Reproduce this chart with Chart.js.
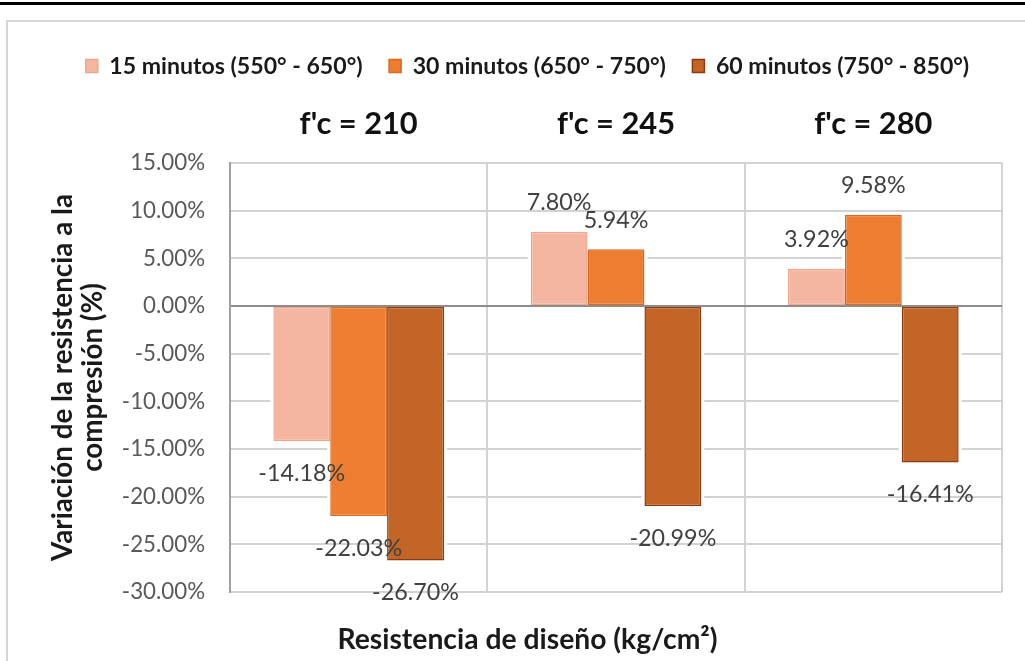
<!DOCTYPE html>
<html>
<head>
<meta charset="utf-8">
<script src="https://cdn.jsdelivr.net/npm/chart.js@4.4.1/dist/chart.umd.min.js"></script>
<style>
  html, body { margin: 0; padding: 0; background: #fff; width: 1025px; height: 661px; overflow: hidden; }
  #topRule { position: absolute; left: 0; top: 2px; width: 1025px; height: 3px; background: #000; }
  #frame { position: absolute; left: 6px; top: 20px; width: 1100px; height: 700px; border: 2px solid #D6D6D6; box-sizing: border-box; }
  #c { position: absolute; left: 0; top: 0; }
</style>
</head>
<body>
<div id="topRule"></div>
<div id="frame"></div>
<canvas id="c" width="1025" height="661"></canvas>
<script>
// ---- data ----
const categories = ["f'c = 210", "f'c = 245", "f'c = 280"];
const seriesNames = ["15 minutos (550° - 650°)", "30 minutos (650° - 750°)", "60 minutos (750° - 850°)"];
const min15 = [-14.18, 7.80, 3.92];
const min30 = [-22.03, 5.94, 9.58];
const min60 = [-26.70, -20.99, -16.41];
const yMin = -30, yMax = 15, yStep = 5;
const yTitle = ["Variación de la resistencia a la", "compresión (%)"];
const xTitle = "Resistencia de diseño (kg/cm²)";

// ---- style ----
const FAMILY = 'Lato';
function fitSize(text, weight, target) {
  const c = document.createElement('canvas').getContext('2d');
  c.font = weight + ' 100px ' + FAMILY;
  return Math.round(1000 * target / c.measureText(text).width) / 10;
}
const legendSize = fitSize(seriesNames[0], 'bold', 253);
const catSize = fitSize(categories[0], 'bold', 118);
const tickSize = fitSize('-30.00%', 'normal', 83);
const labelSize = fitSize('-14.18%', 'normal', 87);
const yTitleSize = fitSize(yTitle[0], 'bold', 367);
const xTitleSize = fitSize(xTitle, 'bold', 380);

const PAD_LEFT = 30, PAD_TOP = 28;
const AREA_LEFT = 230, AREA_RIGHT = 1002, AREA_TOP = 163, AREA_BOTTOM = 592;
const LEG_PAD = 26.5, BOX_H = 13;
const legendItemH = Math.max(legendSize, BOX_H);
const legendBottom = PAD_TOP + legendItemH + LEG_PAD + 10;
const xTitleLH = xTitleSize * 1.2;

const fills = ['#F4B6A1', '#ED7D31', '#C46528'];
const borders = ['#EFA68C', '#D8691E', '#8E3A0C'];

const barHalo = {
  id: 'barHalo',
  beforeDatasetsDraw(chart) {
    const ctx = chart.ctx;
    ctx.save();
    ctx.fillStyle = '#ffffff';
    chart.data.datasets.forEach((ds, i) => {
      chart.getDatasetMeta(i).data.forEach(bar => {
        const top = Math.min(bar.y, bar.base), bottom = Math.max(bar.y, bar.base);
        const t = bar.y < bar.base ? top : top + 2;
        const b = bar.y < bar.base ? bottom - 2 : bottom;
        ctx.fillRect(bar.x - bar.width / 2 - 3, t, bar.width + 6, b - t);
      });
    });
    ctx.restore();
  }
};

const valueLabels = {
  id: 'valueLabels',
  afterDatasetsDraw(chart) {
    const ctx = chart.ctx;
    ctx.save();
    ctx.font = labelSize + 'px ' + FAMILY;
    ctx.fillStyle = '#404040';
    ctx.textAlign = 'center';
    ctx.textBaseline = 'middle';
    chart.data.datasets.forEach((ds, i) => {
      chart.getDatasetMeta(i).data.forEach((bar, j) => {
        const v = ds.data[j];
        const y = v >= 0 ? bar.y - 29 : bar.y + 32;
        ctx.fillText(v.toFixed(2) + '%', bar.x, y);
      });
    });
    ctx.restore();
  }
};

const seriesData = [min15, min30, min60];
new Chart(document.getElementById('c'), {
  type: 'bar',
  data: {
    labels: categories,
    datasets: seriesData.map((d, i) => ({
      label: seriesNames[i],
      data: d,
      backgroundColor: fills[i],
      borderColor: borders[i],
      borderWidth: 1.5,
      borderSkipped: false,
      categoryPercentage: 0.663,
      barPercentage: 1.0
    }))
  },
  options: {
    responsive: false,
    animation: false,
    devicePixelRatio: 1,
    layout: { padding: { left: PAD_LEFT, top: PAD_TOP, right: 0, bottom: 0 } },
    plugins: {
      legend: {
        position: 'top',
        labels: {
          boxWidth: 12, boxHeight: BOX_H, padding: LEG_PAD,
          color: '#1a1a1a',
          font: { family: FAMILY, size: legendSize, weight: 'bold' }
        }
      },
      title: {
        display: true,
        position: 'bottom',
        text: xTitle,
        color: '#1a1a1a',
        font: { family: FAMILY, size: xTitleSize, weight: 'bold', lineHeight: 1.2 },
        padding: { top: 48 - xTitleLH / 2, bottom: (661 - AREA_BOTTOM) - xTitleLH - (48 - xTitleLH / 2) }
      },
      tooltip: { enabled: false }
    },
    scales: {
      x: {
        position: 'top',
        grid: { display: true, color: '#D2D2D2', lineWidth: 2, drawTicks: false, offset: true },
        border: { display: false },
        ticks: { color: '#111', padding: 20, font: { family: FAMILY, size: catSize, weight: 'bold' } },
        afterFit(scale) { scale.height = AREA_TOP - legendBottom; }
      },
      y: {
        position: 'left',
        min: yMin, max: yMax,
        ticks: {
          stepSize: yStep, color: '#595959', padding: 25,
          font: { family: FAMILY, size: tickSize },
          callback: v => v.toFixed(2) + '%'
        },
        grid: {
          drawTicks: false, lineWidth: 2,
          color: ctx => (ctx.tick && Math.abs(ctx.tick.value) < 1e-9) ? '#8C8C8C' : '#D2D2D2'
        },
        border: { display: true, color: '#A0A0A0', width: 2 },
        title: {
          display: true, text: yTitle, color: '#1a1a1a',
          font: { family: FAMILY, size: yTitleSize, weight: 'bold', lineHeight: '30px' },
          padding: { top: 18, bottom: 0 }
        },
        afterFit(scale) { scale.width = AREA_LEFT - PAD_LEFT; }
      },
      y2: {
        position: 'right',
        display: true,
        ticks: { display: false },
        grid: { display: false },
        border: { display: false },
        afterFit(scale) { scale.width = 1025 - AREA_RIGHT; }
      }
    }
  },
  plugins: [barHalo, valueLabels]
});
</script>
</body>
</html>
